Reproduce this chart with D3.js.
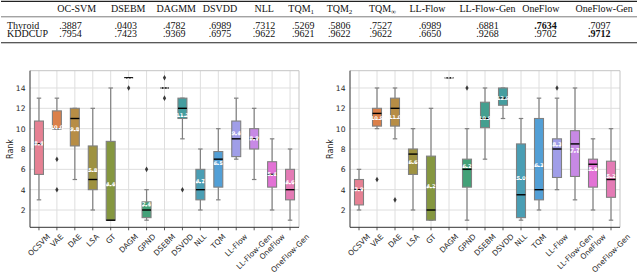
<!DOCTYPE html>
<html><head><meta charset="utf-8">
<script src="https://cdn.jsdelivr.net/npm/d3@7"></script>
<style>body{margin:0;background:#fff} svg{display:block}</style>
</head><body><svg id="c" width="640" height="276"></svg>
<script>
// ---------------- DATA ----------------
const tableHeadBase = ["OC-SVM","DSEBM","DAGMM","DSVDD","NLL","TQM","TQM","TQM","LL-Flow","LL-Flow-Gen","OneFlow","OneFlow-Gen"];
const tableHeadSub  = ["","","","","","1","2","∞","","","",""];
const tableRowNames = ["Thyroid","KDDCUP"];
const thyroidScores = [".3887",".0403",".4782",".6989",".7312",".5269",".5806",".7527",".6989",".6881",".7634",".7097"];
const kddcupScores  = [".7954",".7423",".9369",".6975",".9622",".9621",".9622",".9622",".6650",".9268",".9702",".9712"];
const thyroidBest = 10, kddcupBest = 11;

const methods = ["OCSVM","VAE","DAE","LSA","GT","DAGM","GPND","DSEBM","DSVDD","NLL","TQM","LL-Flow","LL-Flow-Gen","OneFlow","OneFlow-Gen"];
const yTicks = [2,4,6,8,10,12,14];

// left panel
const leftWhisLo = [3,10,5,2,1,15,1,14,9,2,3,7,5,2,1];
const leftQ1     = [5.5,10,8.3,4,1,15,1.25,14,11,3,4.25,7.25,8,4.25,3];
const leftMed    = [8.5,10,11,5,1,15,2,14,12,4,7,9,9,5.5,4];
const leftQ3     = [10.75,11.75,12,8.3,8.75,15,2.8,14,13,6,7.75,10.75,10,6.75,6];
const leftWhisHi = [13,13,12,12,14,15,4,14,13,8,10,13,12,9,8];
const leftMean   = [8.4,10.0,9.8,5.8,4.4,14.9,2.4,14.0,11.2,4.7,6.5,9.4,8.9,5.4,4.6];
const leftOut    = [[],[7,4],[],[],[],[14],[6],[15,13],[4],[],[],[],[],[],[]];

// right panel
const rightWhisLo = [2,10,9,2,1,15,1,7,11,1,2,4,3,2,1];
const rightQ1     = [2.5,10.25,10.25,5.5,1,15,4.25,10.1,12.3,1.25,3,5.2,5.3,4.25,3.25];
const rightMed    = [4,11.5,12,7.5,2,15,6,11,13,3.5,4,8,8.5,6.5,5];
const rightQ3     = [5,12,13,8,7.3,15,7,12.6,14,8.5,11,9,9.8,7,6.8];
const rightWhisHi = [6,14,14,10,12,15,10,14,14,11,13,13,14,9,10];
const rightMean   = [3.9,10.9,11.0,6.6,4.2,15,6.2,10.9,12.9,5.0,6.3,8.3,7.7,5.9,5.2];
const rightOut    = [[],[5],[3],[],[],[],[14],[],[],[],[],[14],[],[],[]];

// ---------------- COLORS (seaborn husl, desaturated 0.75) ----------------
function hsluvToRgb(H,S,L){
  const M=[[3.240969941904521,-1.537383177570093,-0.498610760293],[-0.96924363628087,1.87596750150772,0.041555057407175],[0.055630079696993,-0.20397695888897,1.056971514242878]];
  const kappa=903.2962962962963, eps=0.0088564516790356, refU=0.19783000664283, refV=0.46831999493879;
  if(L>99.9999999) return [1,1,1]; if(L<1e-8) return [0,0,0];
  const sub1=Math.pow(L+16,3)/1560896, sub2=sub1>eps?sub1:L/kappa;
  const hr=H/360*2*Math.PI; let max=Infinity;
  for(const [m1,m2,m3] of M){ for(const t of [0,1]){
    const top1=(284517*m1-94839*m3)*sub2;
    const top2=(838422*m3+769860*m2+731718*m1)*L*sub2-769860*t*L;
    const bottom=(632260*m3-126452*m2)*sub2+126452*t;
    const slope=top1/bottom, inter=top2/bottom;
    const len=inter/(Math.sin(hr)-slope*Math.cos(hr));
    if(len>=0) max=Math.min(max,len);
  }}
  const C=max/100*S, U=C*Math.cos(hr), V=C*Math.sin(hr);
  const varU=U/(13*L)+refU, varV=V/(13*L)+refV;
  const Y= L<=8 ? L/kappa : Math.pow((L+16)/116,3);
  const X=0-(9*Y*varU)/((varU-4)*varV-varU*varV);
  const Z=(9*Y-15*varV*Y-varV*X)/(3*varV);
  return M.map(r=>{const c=r[0]*X+r[1]*Y+r[2]*Z; const v=c<=0.0031308?12.92*c:1.055*Math.pow(c,1/2.4)-0.055; return Math.max(0,Math.min(1,v));});
}
const palette = methods.map((m,i)=>{
  const h=((i/methods.length)+0.01)%1*359;
  const [r,g,b]=hsluvToRgb(h,0.9*99,0.65*99);
  const c=d3.hsl(d3.rgb(r*255,g*255,b*255)); c.s*=0.75; return c.formatHex();
});

// ---------------- DRAW ----------------
const svg=d3.select("#c");
const serif="'Liberation Serif','Times New Roman',serif";
const sans="'DejaVu Sans',sans-serif";

// Table
const headX=[76.7,128.3,176.2,220,264.2,301.2,339.5,382.5,427.5,487.5,540.8,604.2];
const valX=[70.5,125.8,174.2,220,264,303.3,339.2,380.8,430,487.5,545.5,599.2];
const tbl=svg.append("g").attr("font-family",serif).attr("font-size",10).attr("fill","#111");
tbl.append("line").attr("x1",1).attr("x2",637).attr("y1",1.4).attr("y2",1.4).attr("stroke","#222").attr("stroke-width",1.1);
tbl.append("line").attr("x1",1).attr("x2",637).attr("y1",16.8).attr("y2",16.8).attr("stroke","#222").attr("stroke-width",0.6);
tbl.append("line").attr("x1",1).attr("x2",637).attr("y1",42.7).attr("y2",42.7).attr("stroke","#222").attr("stroke-width",1.1);
tableHeadBase.forEach((h,i)=>{
  const t=tbl.append("text").attr("x",headX[i]).attr("y",11.7).attr("text-anchor","middle");
  t.append("tspan").text(h);
  if(tableHeadSub[i]) t.append("tspan").attr("font-size",7).attr("dy",2).text(tableHeadSub[i]);
});
[thyroidScores,kddcupScores].forEach((row,r)=>{
  const y=[28.6,36.7][r];
  tbl.append("text").attr("x",7).attr("y",y).text(tableRowNames[r]);
  const best=[thyroidBest,kddcupBest][r];
  row.forEach((v,i)=>{
    tbl.append("text").attr("x",valX[i]).attr("y",y).attr("text-anchor","middle")
      .attr("font-weight",i===best?"bold":null).text(v);
  });
});

// Box plots
const plotTop=70.7, plotBot=227.3;
const panels=[
  {x0:30,x1:299,lo:leftWhisLo,q1:leftQ1,med:leftMed,q3:leftQ3,hi:leftWhisHi,mean:leftMean,out:leftOut,lab:10},
  {x0:350,x1:620,lo:rightWhisLo,q1:rightQ1,med:rightMed,q3:rightQ3,hi:rightWhisHi,mean:rightMean,out:rightOut,lab:330}
];
const y=d3.scaleLinear().domain([0.3,15.7]).range([plotBot,plotTop]);
const gray="#808080";

panels.forEach(p=>{
  const x=d3.scaleBand().domain(methods).range([p.x0,p.x1]).padding(0);
  const bw=x.bandwidth(), boxW=bw*0.5, capW=boxW*0.5;
  const cx=m=>x(m)+bw/2;
  const g=svg.append("g");
  // grid
  g.append("g").selectAll("line").data(yTicks).join("line")
    .attr("x1",p.x0).attr("x2",p.x1).attr("y1",d=>y(d)).attr("y2",d=>y(d))
    .attr("stroke","#dedede").attr("stroke-width",1);
  g.append("g").selectAll("line").data(methods).join("line")
    .attr("x1",cx).attr("x2",cx).attr("y1",plotTop).attr("y2",plotBot)
    .attr("stroke","#dedede").attr("stroke-width",1);
  // boxes
  methods.forEach((m,i)=>{
    const c=cx(m);
    const bg=g.append("g");
    // whiskers
    bg.append("line").attr("x1",c).attr("x2",c).attr("y1",y(p.q3[i])).attr("y2",y(p.hi[i])).attr("stroke",gray).attr("stroke-width",1.2);
    bg.append("line").attr("x1",c).attr("x2",c).attr("y1",y(p.q1[i])).attr("y2",y(p.lo[i])).attr("stroke",gray).attr("stroke-width",1.2);
    [p.hi[i],p.lo[i]].forEach(v=>bg.append("line").attr("x1",c-capW/2).attr("x2",c+capW/2).attr("y1",y(v)).attr("y2",y(v)).attr("stroke",gray).attr("stroke-width",1.2));
    // box
    bg.append("rect").attr("x",c-boxW/2).attr("width",boxW)
      .attr("y",y(p.q3[i])).attr("height",Math.max(0,y(p.q1[i])-y(p.q3[i])))
      .attr("fill",palette[i]).attr("stroke",gray).attr("stroke-width",1.1);
    // median
    bg.append("line").attr("x1",c-boxW/2).attr("x2",c+boxW/2).attr("y1",y(p.med[i])).attr("y2",y(p.med[i])).attr("stroke","#000").attr("stroke-width",1.4);
    // mean line
    bg.append("line").attr("x1",c-boxW/2).attr("x2",c+boxW/2).attr("y1",y(p.mean[i])).attr("y2",y(p.mean[i]))
      .attr("stroke","#fff").attr("stroke-width",1.2).attr("stroke-dasharray","2,1.2");
    // mean label
    if(p.q3[i]>p.q1[i]){
      bg.append("text").attr("x",c).attr("y",y(p.mean[i])-1.6).attr("text-anchor","middle").attr("dominant-baseline","central")
        .attr("font-family",sans).attr("font-size",5.2).attr("font-weight","bold").attr("fill","#fff").text(p.mean[i].toFixed(1));
    }
    // outliers
    bg.selectAll("path.o").data(p.out[i]).join("path").attr("class","o")
      .attr("d",d3.symbol(d3.symbolDiamond,9)).attr("transform",v=>`translate(${c},${y(v)})`).attr("fill","#3a3a3a");
  });
  // frame
  g.append("line").attr("x1",p.x0).attr("x2",p.x1).attr("y1",plotTop).attr("y2",plotTop).attr("stroke","#c4c4c4").attr("stroke-width",1);
  g.append("line").attr("x1",p.x1).attr("x2",p.x1).attr("y1",plotTop).attr("y2",plotBot).attr("stroke","#c4c4c4").attr("stroke-width",1);
  g.append("line").attr("x1",p.x0).attr("x2",p.x0).attr("y1",plotTop).attr("y2",plotBot).attr("stroke","#333").attr("stroke-width",1);
  g.append("line").attr("x1",p.x0).attr("x2",p.x1).attr("y1",plotBot).attr("y2",plotBot).attr("stroke","#333").attr("stroke-width",1);
  // y axis labels
  const ya=g.append("g").attr("transform",`translate(${p.x0},0)`)
    .call(d3.axisLeft(y).tickValues(yTicks).tickSize(0).tickPadding(4.5));
  ya.select(".domain").remove();
  ya.selectAll("text").attr("font-family",sans).attr("font-size",7.6).attr("fill","#262626");
  // x axis
  const xa=g.append("g").attr("transform",`translate(0,${plotBot})`)
    .call(d3.axisBottom(x).tickSize(3).tickPadding(0));
  xa.select(".domain").remove();
  xa.selectAll(".tick line").attr("stroke","#333").attr("stroke-width",0.8);
  xa.selectAll(".tick text").each(function(){
    const t=d3.select(this);
    t.attr("font-family",sans).attr("font-size",7.5).attr("fill","#262626").attr("dy",null).attr("y",null);
    const w=this.getComputedTextLength();
    const bb=(w+8.7)/Math.SQRT2;
    t.attr("text-anchor","middle").attr("dominant-baseline","central")
     .attr("transform",`translate(0,${5+bb/2}) rotate(-45)`);
  });
  // y label
  svg.append("text").attr("transform",`translate(${p.lab},${(plotTop+plotBot)/2}) rotate(-90)`)
    .attr("text-anchor","middle").attr("dominant-baseline","central")
    .attr("font-family",sans).attr("font-size",8).attr("fill","#262626").text("Rank");
});
</script></body></html>
